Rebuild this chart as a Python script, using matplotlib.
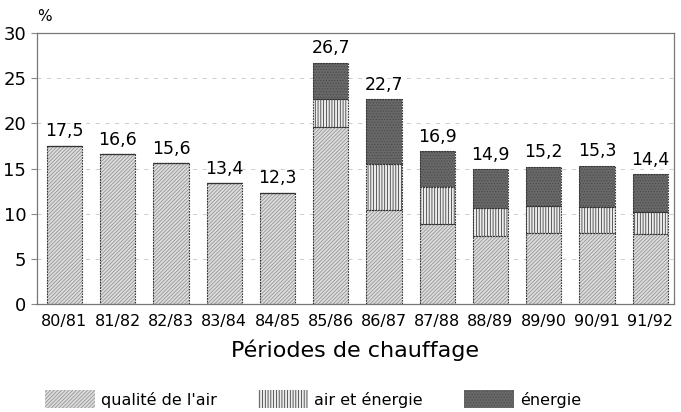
import numpy as np
import matplotlib
matplotlib.use("Agg")
from matplotlib import pyplot as plt

periodes = ["80/81", "81/82", "82/83", "83/84", "84/85", "85/86",
            "86/87", "87/88", "88/89", "89/90", "90/91", "91/92"]
qualite = [17.5, 16.6, 15.6, 13.4, 12.3, 19.6, 10.4, 8.9, 7.5, 7.9, 7.9, 7.7]
air_energie = [0, 0, 0, 0, 0, 3.1, 5.1, 4.0, 3.1, 2.9, 2.8, 2.5]
energie = [0, 0, 0, 0, 0, 4.0, 7.2, 4.0, 4.3, 4.4, 4.6, 4.2]
totaux = ["17,5", "16,6", "15,6", "13,4", "12,3", "26,7",
          "22,7", "16,9", "14,9", "15,2", "15,3", "14,4"]

plt.rcParams['font.family'] = ['DejaVu Sans']
plt.rcParams['hatch.linewidth'] = 0.5

fig = plt.figure(figsize=(6.81, 4.12), dpi=100)
ax = fig.add_axes([0.054, 0.262, 0.936, 0.658])

x = np.arange(len(periodes))
w = 0.66
q = np.array(qualite)
a = np.array(air_energie)
e = np.array(energie)

# couches hachurées (la couleur du bord = couleur des hachures)
b1 = ax.bar(x, q, w, color="#dcdcdc", edgecolor="#8a8a8a", hatch="/////////",
            linewidth=0, label="qualité de l'air")
b2 = ax.bar(x, a, w, bottom=q, color="#ececec", edgecolor="#222222", hatch="||||||",
            linewidth=0, label="air et énergie")
b3 = ax.bar(x, e, w, bottom=q + a, color="#686868", edgecolor="#4a4a4a", hatch="......",
            linewidth=0, label="énergie")
# contours pointillés
for bot, h in [(0, q), (q, a), (q + a, e)]:
    ax.bar(x, h, w, bottom=bot, fill=False, edgecolor="#333333",
           linewidth=0.8, linestyle=(0, (1.5, 1)))

for i in range(len(x)):
    top = q[i] + a[i] + e[i]
    ax.text(x[i], top + 0.6, totaux[i], ha="center", va="bottom", fontsize=12.5)

ax.set_xlim(-0.52, 11.45)
ax.set_ylim(0, 30)
ax.set_yticks([0, 5, 10, 15, 20, 25, 30])
ax.set_xticks(x)
ax.set_xticklabels(periodes, fontsize=11.5)
ax.tick_params(axis="y", labelsize=13, length=4, direction="out", color="#888888")
ax.tick_params(axis="x", length=4, direction="in", color="#666666", pad=7)
ax.yaxis.grid(True, linestyle=(0, (4, 6)), color="#cccccc", linewidth=0.7)
ax.set_axisbelow(True)
for s in ["left", "bottom", "top", "right"]:
    ax.spines[s].set_color("#777777")
    ax.spines[s].set_linewidth(0.9)

ax.set_xlabel("Périodes de chauffage", fontsize=16, labelpad=8)
fig.text(0.055, 0.96, "%", fontsize=11, ha="left", va="center")

fig.legend(handles=[b1, b2, b3], loc="lower left", bbox_to_anchor=(0.045, -0.026),
           ncol=3, frameon=False, fontsize=11.5, handlelength=3.1, handleheight=1.35,
           columnspacing=2.6, handletextpad=0.4)

fig.savefig("out.png", dpi=100)
